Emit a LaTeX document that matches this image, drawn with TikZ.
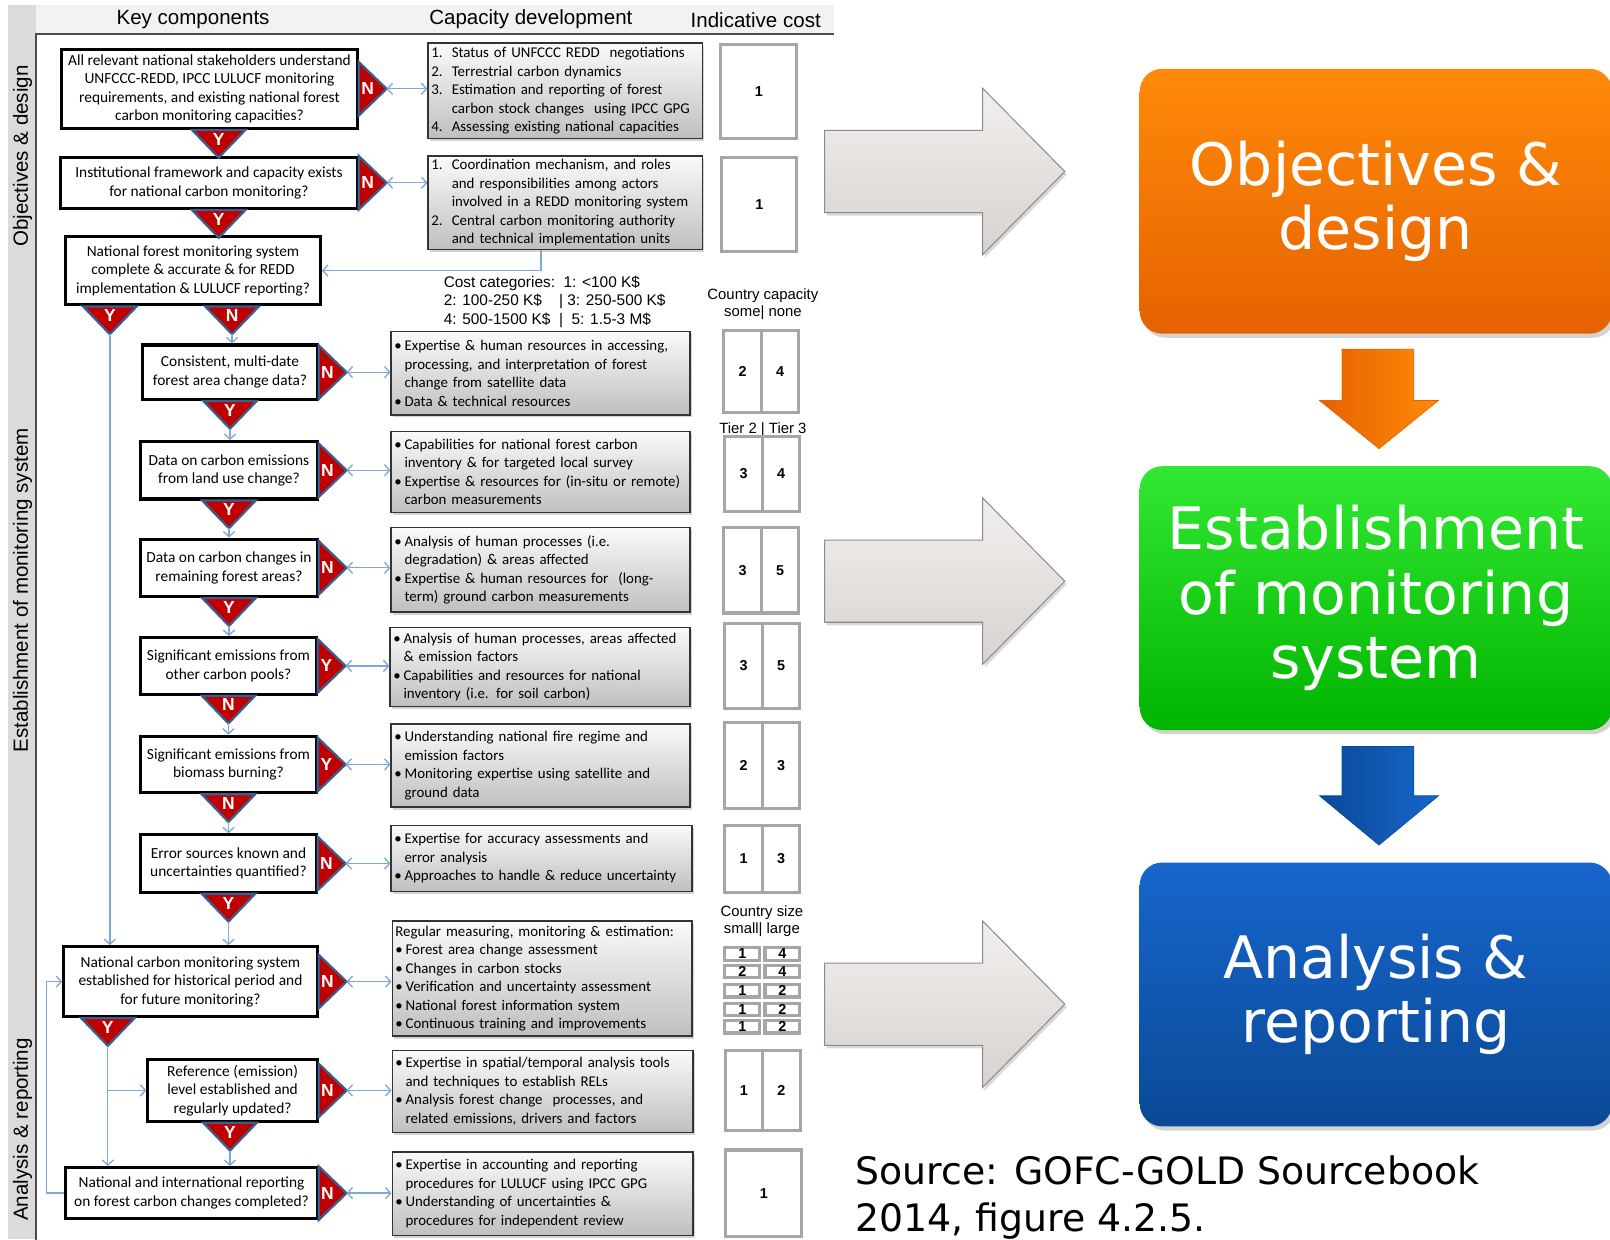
\documentclass[tikz,border=0pt]{standalone}
\usepackage{fontspec}
\setmainfont{Carlito}
\newfontfamily\arialfont{Liberation Sans}
\newfontfamily\verdanafont{DejaVu Sans}
\usetikzlibrary{arrows.meta,shadows}
\definecolor{trired}{HTML}{C00000}
\definecolor{triblue}{HTML}{3A5F8F}
\definecolor{linkblue}{HTML}{7FA7DA}
\definecolor{costgray}{HTML}{A6A6A6}
\definecolor{capedge}{HTML}{333333}
\definecolor{arrowtop}{HTML}{F1EFEE}
\definecolor{arrowbot}{HTML}{D8D2D0}
\definecolor{arrowedge}{HTML}{8E8A88}
\definecolor{orangetop}{HTML}{FF8A0A}
\definecolor{orangebot}{HTML}{E56200}
\definecolor{greentop}{HTML}{33E833}
\definecolor{greenbot}{HTML}{00B400}
\definecolor{bluetop}{HTML}{1766CC}
\definecolor{bluebot}{HTML}{0A4996}
\newcommand{\numitem}[1]{\makebox[20pt][l]{#1}}
\newcommand{\cont}{\hspace*{20pt}}
\newcommand{\bul}{\makebox[10pt][l]{\textbullet}}
\newcommand{\bcont}{\hspace*{10pt}}
\hyphenpenalty=10000
\begin{document}
\begin{tikzpicture}[x=1pt, y=-1pt,
  question/.style={draw=black, line width=3pt, fill=white, align=center, inner sep=0pt,
    font=\fontsize{15}{18}\selectfont},
  capbox/.style={draw=capedge, line width=1.4pt, top color=black!2, bottom color=black!25,
    drop shadow={shadow xshift=2pt, shadow yshift=-2.5pt, opacity=.35},
    align=left, inner xsep=3pt, inner ysep=2pt, font=\fontsize{14.5}{18}\selectfont},
  costbox/.style={draw=costgray, line width=3pt, fill=white, inner sep=0pt,
    font=\arialfont\bfseries\fontsize{14}{16}\selectfont},
  tri/.style={draw=triblue, line width=2.2pt, fill=trired, line join=miter},
  trilbl/.style={text=white, inner sep=0pt, font=\arialfont\bfseries\fontsize{17}{17}\selectfont},
  link/.style={draw=linkblue, line width=1.3pt},
  hdr/.style={inner sep=0pt, font=\arialfont\fontsize{20}{24}\selectfont},
  smalllbl/.style={inner sep=0pt, align=center, font=\arialfont\fontsize{14.5}{17}\selectfont},
  bigarrow/.style={draw=arrowedge, line width=1pt, top color=arrowtop, bottom color=arrowbot,
    drop shadow={shadow xshift=2pt, shadow yshift=-3pt, opacity=.3}},
  phase/.style={rounded corners=22pt, text=white, align=center, inner sep=0pt,
    font=\verdanafont\fontsize{57}{63}\selectfont,
    drop shadow={shadow xshift=3pt, shadow yshift=-4pt, opacity=.35}},
  >={Straight Barb[length=5pt, width=11pt]}]
\useasboundingbox (0,0) rectangle (1568,1207);
\pgfmathsetmacro{\trib}{26}
\pgfmathsetmacro{\trih}{27}
% Frame and headings {{{
\fill[black!5] (8,5) rectangle (812,33);
\fill[black!14] (8,5) rectangle (35,1207);
\draw[black!70, line width=2pt] (812,33) -- (35,33) -- (35,1210);
\node[hdr] (hkey) at (188,19) {Key components};
\node[hdr] (hcap) at (517,19) {Capacity development};
\node[hdr] (hcost) at (736,20) {Indicative cost};
\node[hdr, rotate=90] (vobj) at (22,152) {Objectives \& design};
\node[hdr, rotate=90] (vest) at (22,575) {Establishment of monitoring system};
\node[hdr, rotate=90] (vana) at (22,1100) {Analysis \& reporting};
% }}}
% Key components {{{
\node[question, minimum width=288, minimum height=77] (q1) at (204,86.5)
  {All relevant national stakeholders understand\\UNFCCC-REDD, IPCC LULUCF monitoring\\requirements, and existing national forest\\carbon monitoring capacities?};
\node[question, minimum width=289, minimum height=50] (q2) at (203.5,178)
  {Institutional framework and capacity exists\\for national carbon monitoring?};
\node[question, minimum width=248, minimum height=67] (q3) at (188,263.5)
  {National forest monitoring system\\complete \& accurate \& for REDD\\implementation \& LULUCF reporting?};
\node[question, minimum width=170, minimum height=53] (q4) at (224,362.5)
  {Consistent, multi-date\\forest area change data?};
\node[question, minimum width=172, minimum height=56] (q5) at (223,458)
  {Data on carbon emissions\\from land use change?};
\node[question, minimum width=172, minimum height=56] (q6) at (223,553)
  {Data on carbon changes in\\remaining forest areas?};
\node[question, minimum width=171, minimum height=55] (q7) at (222.5,648.5)
  {Significant emissions from\\other carbon pools?};
\node[question, minimum width=171, minimum height=55] (q8) at (222.5,744.5)
  {Significant emissions from\\biomass burning?};
\node[question, minimum width=171, minimum height=56] (q9) at (222.5,841)
  {Error sources known and\\uncertainties quantified?};
\node[question, minimum width=247, minimum height=68] (q10) at (185.5,956)
  {National carbon monitoring system\\established for historical period and\\for future monitoring?};
\node[question, minimum width=165, minimum height=60] (q11) at (226.5,1062)
  {Reference (emission)\\level established and\\regularly updated?};
\node[question, minimum width=245, minimum height=50] (q12) at (186.5,1162)
  {National and international reporting\\on forest carbon changes completed?};
% }}}
% Decision triangles {{{
\foreach \q/\lt in {q1/N,q2/N,q4/N,q5/N,q6/N,q7/Y,q8/Y,q9/N,q10/N,q11/N,q12/N} {
  \draw[tri] ([yshift=\trib]\q.east) -- ([xshift=\trih]\q.east) -- ([yshift=-\trib]\q.east) -- cycle;
  \coordinate (t\q) at ([xshift=\trih]\q.east);
  \node[trilbl] (l\q) at ([xshift=8.5]\q.east) {\lt};
}
\foreach \q/\dx/\lt/\n in {q1/9/Y/1,q2/9.5/Y/2,q3/-81/Y/3,q3/38/N/4,q4/0/Y/5,q5/0/Y/6,
    q6/0/Y/7,q7/0/N/8,q8/0/N/9,q9/0/Y/10,q10/-80.5/Y/11,q11/-2.5/Y/12} {
  \draw[tri] ([xshift=\dx-\trib]\q.south) -- ([xshift=\dx, yshift=-\trih]\q.south) -- ([xshift=\dx+\trib]\q.south) -- cycle;
  \coordinate (d\n) at ([xshift=\dx, yshift=-\trih]\q.south);
  \node[trilbl] (m\n) at ([xshift=\dx, yshift=-9]\q.south) {\lt};
}
% }}}
% Capacity development {{{
\node[capbox, text width=261, minimum height=93] (c1) at (550.5,88.5)
  {\numitem{1.}Status of UNFCCC REDD\ \ negotiations\\
   \numitem{2.}Terrestrial carbon dynamics\\
   \numitem{3.}Estimation and reporting of forest\\
   \cont carbon stock changes\ \ using IPCC GPG\\
   \numitem{4.}Assessing existing national capacities};
\node[capbox, text width=261, minimum height=91] (c2) at (550.5,197.5)
  {\numitem{1.}Coordination mechanism, and roles\\
   \cont and responsibilities among actors\\
   \cont involved in a REDD monitoring system\\
   \numitem{2.}Central carbon monitoring authority\\
   \cont and technical implementation units};
\node[capbox, text width=285, minimum height=81] (c3) at (526.5,363.5)
  {\bul Expertise \& human resources in accessing,\\
   \bcont processing, and interpretation of forest\\
   \bcont change from satellite data\\
   \bul Data \& technical resources};
\node[capbox, text width=285, minimum height=79] (c4) at (526.5,459.5)
  {\bul Capabilities for national forest carbon\\
   \bcont inventory \& for targeted local survey\\
   \bul Expertise \& resources for (in-situ or remote)\\
   \bcont carbon measurements};
\node[capbox, text width=285, minimum height=82] (c5) at (526.5,555)
  {\bul Analysis of human processes (i.e.\\
   \bcont degradation) \& areas affected\\
   \bul Expertise \& human resources for\ \ (long-\\
   \bcont term) ground carbon measurements};
\node[capbox, text width=286, minimum height=77] (c6) at (526,649.5)
  {\bul Analysis of human processes, areas affected\\
   \bcont\& emission factors\\
   \bul Capabilities and resources for national\\
   \bcont inventory (i.e. for soil carbon)};
\node[capbox, text width=285, minimum height=81] (c7) at (526.5,745.5)
  {\bul Understanding national fire regime and\\
   \bcont emission factors\\
   \bul Monitoring expertise using satellite and\\
   \bcont ground data};
\node[capbox, text width=287, minimum height=64] (c8) at (527.5,836)
  {\bul Expertise for accuracy assessments and\\
   \bcont error analysis\\
   \bul Approaches to handle \& reduce uncertainty};
\node[capbox, text width=286, minimum height=112] (c9) at (528,953)
  {Regular measuring, monitoring \& estimation:\\
   \bul Forest area change assessment\\
   \bul Changes in carbon stocks\\
   \bul Verification and uncertainty assessment\\
   \bul National forest information system\\
   \bul Continuous training and improvements};
\node[capbox, text width=287, minimum height=80] (c10) at (528.5,1063)
  {\bul Expertise in spatial/temporal analysis tools\\
   \bcont and techniques to establish RELs\\
   \bul Analysis forest change\ \ processes, and\\
   \bcont related emissions, drivers and factors};
\node[capbox, text width=287, minimum height=81] (c11) at (528.5,1162.5)
  {\bul Expertise in accounting and reporting\\
   \bcont procedures for LULUCF using IPCC GPG\\
   \bul Understanding of uncertainties \&\\
   \bcont procedures for independent review};
% }}}
% Indicative cost {{{
\node[anchor=west, inner sep=0pt, align=left, font=\arialfont\fontsize{15}{18}\selectfont] (costcat) at (432,294)
  {Cost categories:\ \ 1: <100 K\$\\2: 100-250 K\$\ \ \ \ | 3: 250-500 K\$\\4: 500-1500 K\$\ \ |\ \ 5: 1.5-3 M\$};
\node[smalllbl] (lcap) at (743,296) {Country capacity\\some| none};
\node[smalllbl] (ltier) at (743,418) {Tier 2 | Tier 3};
\node[smalllbl] (lsize) at (742,897) {Country size\\small| large};
\node[costbox, minimum width=74, minimum height=92] (k1) at (739,89) {1};
\node[costbox, minimum width=73, minimum height=92] (k2) at (739.5,199) {1};
\node[costbox, minimum width=74, minimum height=84] (k11) at (744,1162) {1};
\foreach \n/\x/\y/\h/\va/\vb in {3/723.25/362/80/2/4, 4/724.25/461.5/73/3/4, 5/723.25/555.5/83/3/5,
    6/724.25/648.5/83/3/5, 7/724.25/745.5/83/2/3, 8/724.25/836.5/65/1/3, 10/724.5/1062/78/1/2} {
  \node[costbox, minimum width=36.5, minimum height=\h] (k\n a) at (\x,\y) {\va};
  \node[costbox, minimum width=36.5, minimum height=\h] (k\n b) at (\x+36.5,\y) {\vb};
}
\foreach \i/\y/\va/\vb in {1/929/1/4, 2/946/2/4, 3/965/1/2, 4/983/1/2, 5/1000/1/2} {
  \node[costbox, minimum width=34, minimum height=12] (k9a\i) at (723,\y) {\va};
  \node[costbox, minimum width=34, minimum height=12] (k9b\i) at (762,\y) {\vb};
}
% }}}
% Connectors {{{
\foreach \q/\cb in {q1/c1,q2/c2,q4/c3,q5/c4,q6/c5,q7/c6,q8/c7,q9/c8,q10/c9,q11/c10,q12/c11}
  \draw[link, <->] (t\q) -- (t\q -| \cb.west);
\draw[link, ->] ([xshift=-23.5]c2.south) |- (q3.east);
\draw[link, ->] (d3) -- (d3 |- q10.north);
\draw[link, ->] (d4) -- (d4 |- q4.north);
\draw[link, ->] (d5) -- (d5 |- q5.north);
\draw[link, ->] (d6) -- (d6 |- q6.north);
\draw[link, ->] (d7) -- (d7 |- q7.north);
\draw[link, ->] (d8) -- (d8 |- q8.north);
\draw[link, ->] (d9) -- (d9 |- q9.north);
\draw[link, ->] (d10) -- (d10 |- q10.north);
\draw[link, ->] (d11) -- (d11 |- q12.north);
\draw[link, ->] (d11 |- q11.west) -- (q11.west);
\draw[link, ->] (d12) -- (d12 |- q12.north);
\draw[link, ->] (q12.west) -- ++(-17,0) |- (q10.west);
% }}}
% Phases {{{
\foreach \y in {167,566,978}
  \draw[bigarrow] (803,\y-40) -- (957,\y-40) -- (957,\y-81) -- (1037,\y) -- (957,\y+81) -- (957,\y+40) -- (803,\y+40) -- cycle;
\node[phase, top color=orangetop, bottom color=orangebot, minimum width=460, minimum height=258] (obj) at (1340,196)
  {Objectives \&\\design};
\node[phase, top color=greentop, bottom color=greenbot, minimum width=460, minimum height=257] (est) at (1340,582.5)
  {Establishment\\of monitoring\\system};
\node[phase, top color=bluetop, bottom color=bluebot, minimum width=460, minimum height=257] (ana) at (1340,968.5)
  {Analysis \&\\reporting};
\draw[line width=0.6pt, draw=orangebot, left color=orangebot, right color=orangetop] (1307,340) -- (1377,340) -- (1377,390) -- (1401,390) -- (1343,437) -- (1285,390) -- (1307,390) -- cycle;
\draw[line width=0.6pt, draw=bluebot, left color=bluebot, right color=bluetop] (1307,727) -- (1377,727) -- (1377,775) -- (1401,775) -- (1343,823) -- (1285,775) -- (1307,775) -- cycle;
\node[anchor=west, inner sep=0pt, align=left, font=\verdanafont\fontsize{36.8}{46}\selectfont] (src) at (833,1166)
  {Source: GOFC-GOLD Sourcebook\\2014, figure 4.2.5.};
% }}}
\end{tikzpicture}
\end{document}
